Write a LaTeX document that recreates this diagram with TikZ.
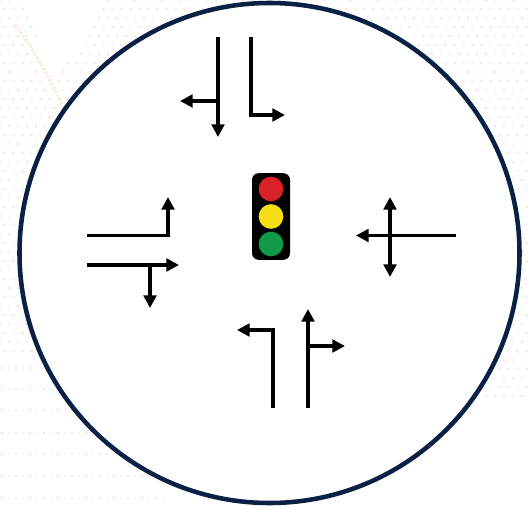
\documentclass[tikz,border=0pt]{standalone}
\usetikzlibrary{arrows.meta}
\definecolor{ringblue}{HTML}{0A2044}
\definecolor{lightred}{HTML}{D92128}
\definecolor{lightyellow}{HTML}{F7DF16}
\definecolor{lightgreen}{HTML}{119A48}
\definecolor{dotpeach}{HTML}{FAE8DB}
\definecolor{dotgrey}{HTML}{F2F4F4}
\tikzset{
  x=0.75pt,y=-0.75pt,
  road/.style={line width=2.5pt,draw=black,line join=miter,-{Triangle[length=9.5pt,width=9.5pt]}},
  roadboth/.style={line width=2.5pt,draw=black,{Triangle[length=9.5pt,width=9.5pt]}-{Triangle[length=9.5pt,width=9.5pt]}},
  ring/.style={circle,draw=ringblue,fill=white,line width=3.4pt,minimum size=375pt,inner sep=0pt},
  housing/.style={rectangle,rounded corners=5pt,fill=black,minimum width=28.5pt,minimum height=65pt,inner sep=0pt},
  lamp/.style={circle,minimum size=18.5pt,inner sep=0pt}
}
\begin{document}
\begin{tikzpicture}
\useasboundingbox (0,0) rectangle (531,506);
\fill[white] (0,0) rectangle (531,506);
% faint dotted background, upper part and right edge
\foreach \i in {0,...,58}{\foreach \j in {0,...,44}{
  \pgfmathsetmacro{\px}{\i*9+mod(\j,2)*4.5}
  \pgfmathsetmacro{\py}{\j*9}
  \pgfmathtruncatemacro{\wedge}{(\px>20+0.45*\py && \px<105-0.6*\py) || (\py>356 && \px<480) ? 1 : 0}
  \ifnum\wedge=0
    \pgfmathtruncatemacro{\pick}{mod(\i+\j,3)==0?1:0}
    \ifnum\pick=1
      \fill[dotpeach] (\px,\py) circle (1.15pt);
    \else
      \fill[dotgrey] (\px,\py) circle (1.15pt);
    \fi
  \fi
}}
% rows of dots in the lower left corner
\foreach \yy in {368,389,410,433,454,476,498}{\foreach \i in {0,...,23}{
  \pgfmathtruncatemacro{\pick}{mod(\i,2)}
  \ifnum\pick=0
    \fill[dotpeach] (\i*7+2,\yy) circle (0.95pt);
  \else
    \fill[dotgrey] (\i*7+2,\yy) circle (0.95pt);
  \fi
}}
\draw[dotpeach,line width=2.6pt,dash pattern=on 2pt off 1.2pt,opacity=.75] (15,25) .. controls (35,50) and (50,80) .. (64,108);
% ring
\node[ring] (rim) at (269.5,253) {};
% signal
\node[housing] (box) at (271,216.5) {};
\node[lamp,fill=lightred] (red) at (271,189) {};
\node[lamp,fill=lightyellow] (yellow) at (271,216.5) {};
\node[lamp,fill=lightgreen] (green) at (271,244) {};
% north
\coordinate (n1s) at (218,37); \coordinate (n1e) at (218,137);
\coordinate (n1b) at (218,101); \coordinate (n1l) at (180,101);
\coordinate (n2s) at (251,37); \coordinate (n2c) at (251,115); \coordinate (n2e) at (285,115);
\draw[road] (n1s) -- (n1e);
\draw[road] (n1b) -- (n1l);
\draw[road] (n2s) -- (n2c) -- (n2e);
% west
\coordinate (w1s) at (87,235.5); \coordinate (w1c) at (168,235.5); \coordinate (w1e) at (168,197);
\coordinate (w2s) at (87,265); \coordinate (w2e) at (179,265);
\coordinate (w2b) at (150,265); \coordinate (w2d) at (150,308);
\draw[road] (w1s) -- (w1c) -- (w1e);
\draw[road] (w2s) -- (w2e);
\draw[road] (w2b) -- (w2d);
% east
\coordinate (e1s) at (456,235.5); \coordinate (e1e) at (356,235.5);
\coordinate (e2t) at (390,197); \coordinate (e2b) at (390,277);
\draw[road] (e1s) -- (e1e);
\draw[roadboth] (e2t) -- (e2b);
% south
\coordinate (s1s) at (273,408); \coordinate (s1c) at (273,330); \coordinate (s1e) at (237,330);
\coordinate (s2s) at (308,408); \coordinate (s2e) at (308,309);
\coordinate (s2b) at (308,346); \coordinate (s2r) at (345,346);
\draw[road] (s1s) -- (s1c) -- (s1e);
\draw[road] (s2s) -- (s2e);
\draw[road] (s2b) -- (s2r);
\end{tikzpicture}
\end{document}
